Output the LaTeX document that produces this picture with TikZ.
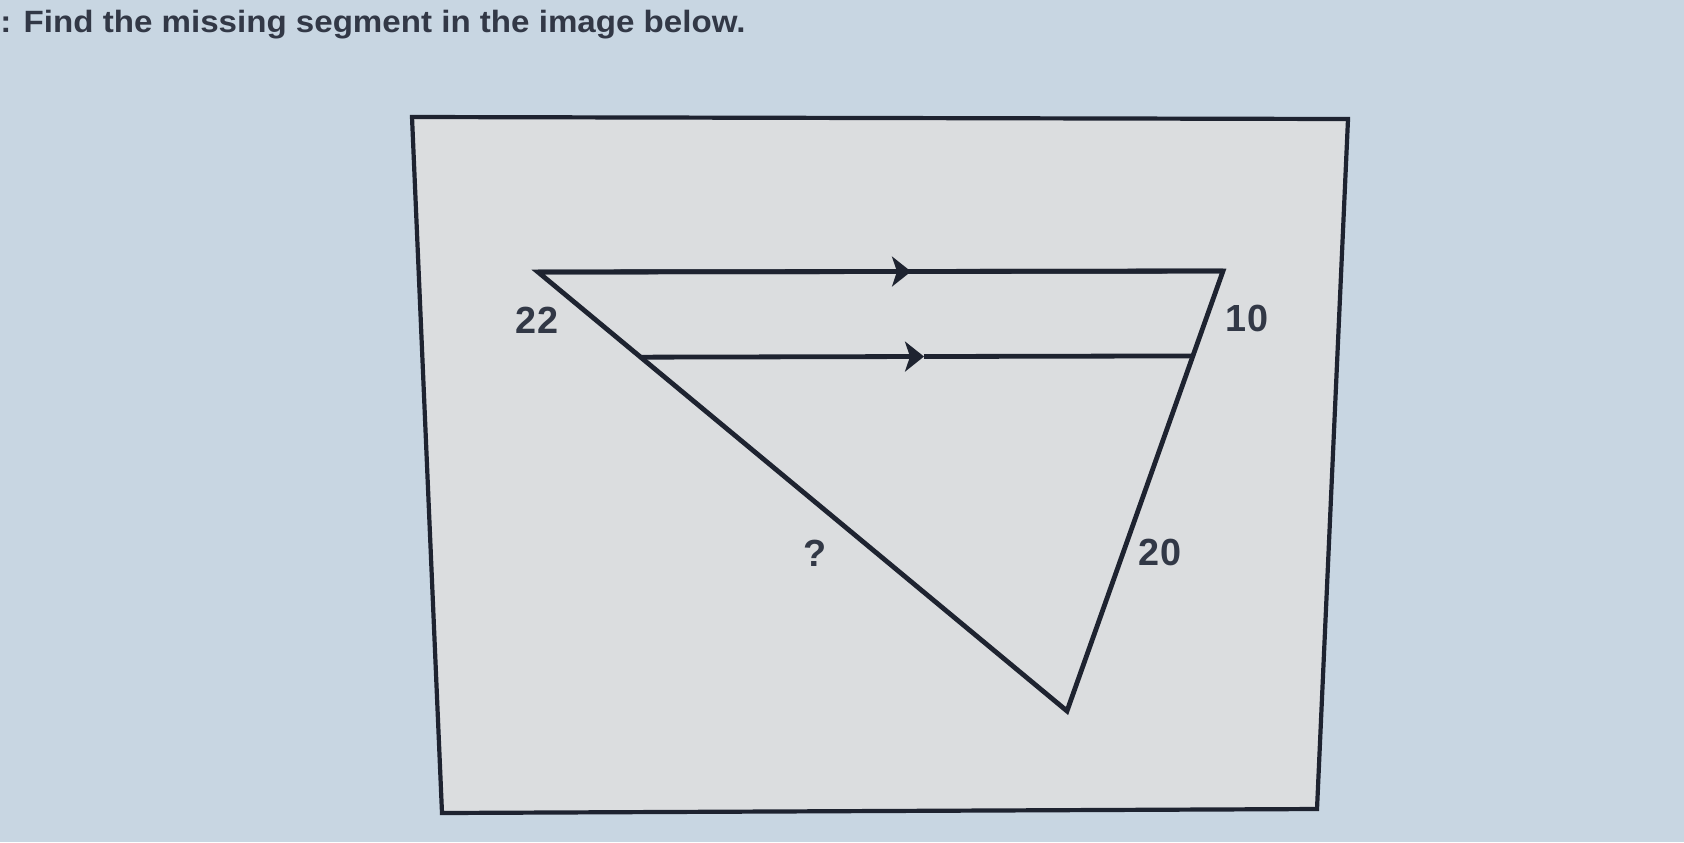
\documentclass[tikz,border=0pt]{standalone}
\usepackage{fontspec}
\setmainfont{Liberation Sans}
\usetikzlibrary{arrows.meta,calc}
\definecolor{outerbg}{RGB}{200,214,226}
\definecolor{innerbg}{RGB}{219,221,223}
\definecolor{ink}{RGB}{30,35,48}
\definecolor{txt}{RGB}{50,56,70}
\tikzset{
  frameline/.style={draw=ink, line width=2.1pt, line join=miter},
  segline/.style={draw=ink, line width=2.4pt, line join=miter},
  midarrow/.style={segline, -{Stealth[length=9.5pt, width=15pt, inset=2.5pt]}},
  lbl/.style={inner sep=0pt, text=txt, font=\fontsize{18.9pt}{20pt}\selectfont\bfseries},
  titletext/.style={inner sep=0pt, text=txt, font=\fontsize{15.4pt}{18pt}\selectfont\bfseries},
}
\begin{document}
\begin{tikzpicture}[x=0.5pt, y=-0.5pt]
  \fill[outerbg] (0,0) rectangle (1684,842);
  \useasboundingbox (0,0) rectangle (1684,842);
  % frame
  \coordinate (TL) at (412,117);
  \coordinate (TR) at (1348,119);
  \coordinate (BR) at (1317,809);
  \coordinate (BL) at (442,813);
  \filldraw[frameline, fill=innerbg] (TL) -- (TR) -- (BR) -- (BL) -- cycle;
  % title
  \node[titletext, anchor=base west] (title) at (0,32) {\scalebox{1.075}[1]{: Find the missing segment in the image below.}};
  % triangle
  \coordinate (A) at (538,272);
  \coordinate (B) at (1223,271);
  \coordinate (C) at (1067,711);
  \coordinate (D) at ($(A)!0.194!(C)$);
  \coordinate (E) at ($(B)!0.193!(C)$);
  \coordinate (M1) at (911,271.5);
  \coordinate (M2) at (924,356.5);
  \draw[midarrow] (A) -- (M1);
  \draw[segline] (M1) -- (B);
  \draw[midarrow] (D) -- (M2);
  \draw[segline] (M2) -- (E);
  \draw[segline] (A) -- (C) -- (B) -- cycle;
  % labels
  \node[lbl] (l22) at (537,320) {22};
  \node[lbl] (l10) at (1247,318) {10};
  \node[lbl] (lq) at (815,553) {?};
  \node[lbl] (l20) at (1160,552) {20};
\end{tikzpicture}
\end{document}
